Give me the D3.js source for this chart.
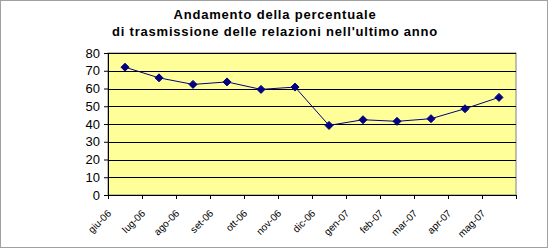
<!DOCTYPE html>
<html>
<head>
<meta charset="utf-8">
<script src="https://cdn.jsdelivr.net/npm/d3@7"></script>
<style>
  body { margin: 0; background: #fff; }
</style>
</head>
<body>
<div class="canvas"></div>
<script>
// data
var months = ["giu-06", "lug-06", "ago-06", "set-06", "ott-06", "nov-06",
              "dic-06", "gen-07", "feb-07", "mar-07", "apr-07", "mag-07"];
var values = [72, 66, 62.3, 63.7, 59.5, 60.8, 39.2, 42.4, 41.5, 43, 48.6, 55];
var yTicks = [0, 10, 20, 30, 40, 50, 60, 70, 80];
var titleLines = ["Andamento della percentuale", "di trasmissione delle relazioni nell'ultimo anno"];

var W = 548, H = 248;
var margin = {top: 53, right: 32, bottom: 53, left: 108},
    width = W - margin.left - margin.right,
    height = H - margin.top - margin.bottom;

var root = d3.select(".canvas")
    .append("svg")
    .attr("width", W)
    .attr("height", H)
    .style("font-family", "'Liberation Sans', Arial, sans-serif");

// outer border
root.append("rect")
    .attr("x", 0.5).attr("y", 0.5)
    .attr("width", W - 1).attr("height", H - 1)
    .attr("fill", "white")
    .attr("stroke", "#a0a0a0");

// title
root.selectAll("text.title")
    .data(titleLines)
    .enter()
    .append("text")
    .attr("class", "title")
    .attr("x", 275)
    .attr("y", (d, i) => 19 + i * 17)
    .attr("text-anchor", "middle")
    .style("font-weight", "bold")
    .style("font-size", "13px")
    .style("letter-spacing", "0.8px")
    .text(d => d);

var svg = root.append("g")
    .attr("transform", `translate(${margin.left},${margin.top})`);

var x = d3.scaleBand()
    .domain(months)
    .range([0, width]);

var y = d3.scaleLinear()
    .domain([0, 80])
    .range([height, 0]);

// plot area
svg.append("rect")
    .attr("width", width)
    .attr("height", height)
    .attr("fill", "#FFFF99")
    .attr("stroke", "#808080");

// gridlines
svg.selectAll("line.grid")
    .data(yTicks.slice(1))
    .enter()
    .append("line")
    .attr("x1", 0).attr("x2", width)
    .attr("y1", d => Math.round(y(d)) + 0.5)
    .attr("y2", d => Math.round(y(d)) + 0.5)
    .attr("stroke", "black");

// Y axis
var yAxis = svg.append("g")
    .call(d3.axisLeft(y).tickValues(yTicks).tickSize(4).tickPadding(4));
yAxis.select(".domain").attr("stroke", "black");
yAxis.selectAll("text")
    .style("font-family", "'Liberation Sans', Arial, sans-serif")
    .style("font-size", "13px")
    .attr("fill", "black");

// X axis
var xAxis = svg.append("g")
    .attr("transform", "translate(0," + height + ")")
    .call(d3.axisBottom(x).tickSize(0).tickFormat(""));
xAxis.select(".domain").attr("stroke", "black");

// category boundary ticks
svg.selectAll("line.xtick")
    .data(months.concat(["end"]))
    .enter()
    .append("line")
    .attr("x1", (d, i) => Math.round(i * x.step()) + 0.5)
    .attr("x2", (d, i) => Math.round(i * x.step()) + 0.5)
    .attr("y1", height)
    .attr("y2", height + 4)
    .attr("stroke", "black");

// rotated labels
svg.selectAll("text.xlab")
    .data(months)
    .enter()
    .append("text")
    .attr("class", "xlab")
    .attr("transform", d => `translate(${x(d) + x.bandwidth() / 2 - 13},${height + 19}) rotate(-45)`)
    .attr("text-anchor", "end")
    .style("font-size", "10px")
    .text(d => d);

// line
var line = d3.line()
    .x((d, i) => x(months[i]) + x.bandwidth() / 2)
    .y(d => y(d));

svg.append("path")
    .datum(values)
    .attr("d", line)
    .attr("fill", "none")
    .attr("stroke", "#000080")
    .attr("stroke-width", 1);

// diamond markers
svg.selectAll("path.marker")
    .data(values)
    .enter()
    .append("path")
    .attr("class", "marker")
    .attr("transform", (d, i) => `translate(${x(months[i]) + x.bandwidth() / 2},${y(d)})`)
    .attr("d", "M0,-4L4,0L0,4L-4,0Z")
    .attr("fill", "#000080")
    .attr("stroke", "#000080");
</script>
</body>
</html>
